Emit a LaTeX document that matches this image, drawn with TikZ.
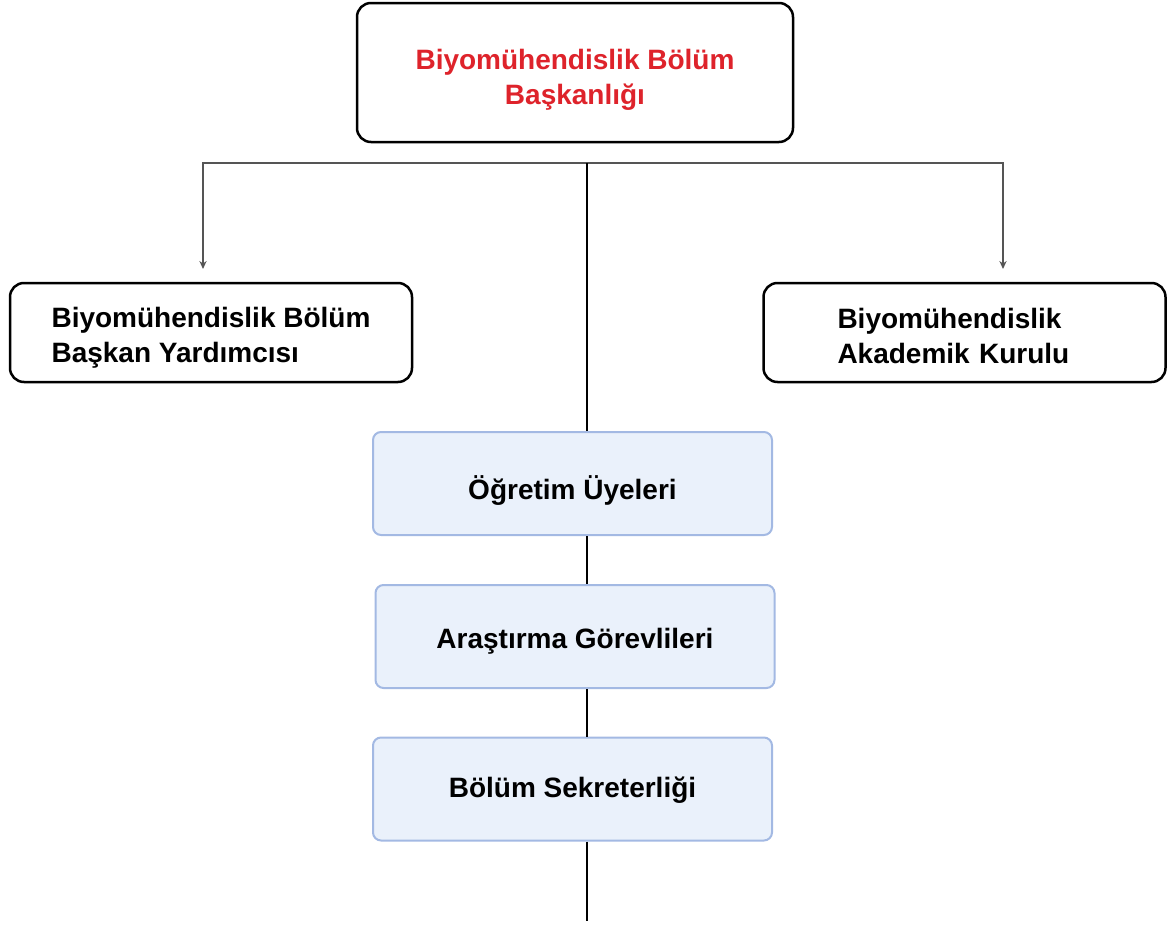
\documentclass[tikz,border=0pt]{standalone}
\usepackage{fontspec}
\setmainfont{Liberation Sans}
\usetikzlibrary{arrows.meta}
\definecolor{baslik}{RGB}{222,35,43}
\definecolor{mavidolgu}{RGB}{234,241,251}
\definecolor{mavicizgi}{RGB}{163,185,227}
\definecolor{baglanti}{RGB}{85,85,85}
\begin{document}
\begin{tikzpicture}[x=0.5pt, y=-0.5pt,
	yazi/.style={font=\bfseries\fontsize{14}{17.5}\selectfont},
	kutu/.style={yazi, draw=black, line width=1.25pt, rounded corners=7pt, fill=white, align=left, inner sep=0pt, minimum width=201pt, minimum height=49.5pt},
	mavi/.style={yazi, draw=mavicizgi, line width=1pt, rounded corners=4pt, fill=mavidolgu, inner sep=0pt, minimum width=199.5pt, minimum height=51.5pt, text depth=0pt},
	ince/.style={draw=baglanti, line width=0.65pt},
	kalin/.style={draw=black, line width=1.1pt}]
	\useasboundingbox (0,0) rectangle (1169,926);
	\node [kutu, minimum width=218pt, minimum height=69.5pt, text=baslik, align=center] (baskan) at (575,72.5) {\rule{0pt}{17.3pt}Biyomühendislik Bölüm\\Başkanlığı};
	\node [kutu] (yardimci) at (211,332.5) {\rule{0pt}{15.3pt}Biyomühendislik Bölüm\\Başkan Yardımcısı};
	\node [kutu, text width=127pt] (kurul) at (964.5,332.5) {\rule{0pt}{13.3pt}Biyomühendislik\\Akademik Kurulu};
	\coordinate (hat) at (587,163);
	\coordinate (sol) at (203,269);
	\coordinate (sag) at (1003,269);
	\coordinate (alt) at (587,921);
	\foreach \name/\x/\y/\h/\labl in {
		ogretim/572.5/483.5/15.5pt/{Öğretim Üyeleri},
		arastirma/575/636.5/11.5pt/{Araştırma Görevlileri},
		sekreter/572.5/789/8pt/{Bölüm Sekreterliği}
	}
	{
		\node [mavi, text height=\h] (\name) at (\x,\y) {\labl};
	}
	\foreach \ucu in {sol, sag}
	{
		\draw [ince, -{Stealth[length=4pt, width=3.6pt]}] (hat) -| (\ucu);
	}
	\foreach \a/\b in {
		hat/ogretim.north,
		ogretim.south/arastirma.north,
		arastirma.south/sekreter.north,
		sekreter.south/alt
	}
	{
		\draw [kalin] (\a -| hat) -- (\b -| hat);
	}
\end{tikzpicture}
\end{document}
